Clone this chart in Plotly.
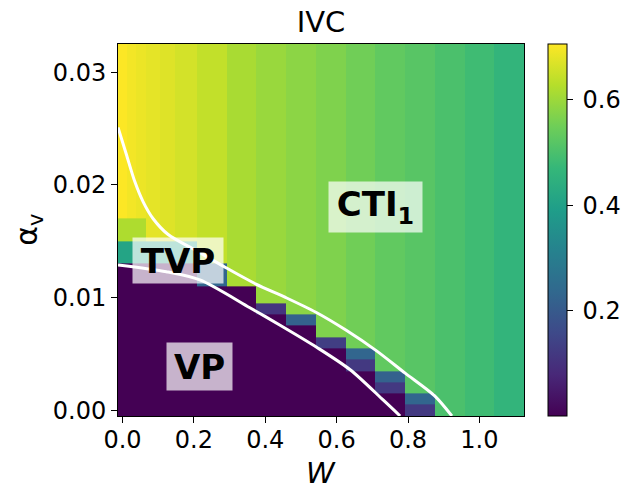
import plotly.graph_objects as go

# ---- data ----
W = [0.0, 0.025, 0.05, 0.0833, 0.125, 0.1667, 0.25, 0.3333, 0.4167, 0.5,
     0.5833, 0.6667, 0.75, 0.8333, 0.9167, 1.0, 1.0833]
alpha_v = [0.000, 0.001, 0.002, 0.003, 0.004, 0.005, 0.006, 0.007, 0.008, 0.009,
           0.010, 0.012, 0.014, 0.016, 0.018, 0.020, 0.022, 0.024, 0.026, 0.028,
           0.030, 0.032]

# value of each column outside the VP region
col_level = [0.705, 0.695, 0.688, 0.680, 0.672, 0.660, 0.642, 0.614, 0.597, 0.582,
             0.568, 0.551, 0.531, 0.519, 0.501, 0.484, 0.462]
# highest alpha_v that is still in the VP (purple) region, per column
vp_top = [0.012, 0.012, 0.012, 0.012, 0.012, 0.012, 0.010, 0.010, 0.008, 0.007,
          0.005, 0.003, 0.001, None, None, None, None]
vp_level = 0.0

# individual cells along the phase boundaries
cell_W = [0.0, 0.025, 0.05, 0.0833, 0.125, 0.1667, 0.0, 0.025, 0.05,
          0.25, 0.4167, 0.5, 0.5833, 0.6667, 0.6667, 0.75, 0.75, 0.8333, 0.8333]
cell_a = [0.014, 0.014, 0.014, 0.014, 0.014, 0.014, 0.016, 0.016, 0.016,
          0.012, 0.009, 0.008, 0.006, 0.005, 0.004, 0.003, 0.002, 0.001, 0.000]
cell_v = [0.41, 0.41, 0.41, 0.41, 0.41, 0.41, 0.62, 0.62, 0.62,
          0.23, 0.11, 0.22, 0.13, 0.23, 0.12, 0.22, 0.12, 0.23, 0.12]

# white boundary curves
upper_W = [-0.0125, 0.011, 0.0345, 0.058, 0.086, 0.128, 0.208, 0.2875, 0.374,
           0.458, 0.542, 0.627, 0.711, 0.792, 0.874, 0.923]
upper_a = [0.0251, 0.0227, 0.0203, 0.0185, 0.0170, 0.0156, 0.01415, 0.0127, 0.0112,
           0.0100, 0.0087, 0.0071, 0.0053, 0.0033, 0.0013, -0.0005]
lower_W = [-0.0125, 0.123, 0.217, 0.357, 0.45, 0.544, 0.638, 0.731, 0.778]
lower_a = [0.0129, 0.0123, 0.01157, 0.0091, 0.0074, 0.0056, 0.0036, 0.0009, -0.0005]

x_ticks = [0.0, 0.2, 0.4, 0.6, 0.8, 1.0]
x_ticktext = ["0.0", "0.2", "0.4", "0.6", "0.8", "1.0"]
y_ticks = [0.00, 0.01, 0.02, 0.03]
y_ticktext = ["0.00", "0.01", "0.02", "0.03"]
cb_ticks = [0.2, 0.4, 0.6]
cb_ticktext = ["0.2", "0.4", "0.6"]
z_min, z_max = 0.0, 0.706

labels = ["<b>CTI<sub>1</sub></b>", "<b>TVP</b>", "<b>VP</b>"]
label_W = [0.708, 0.156, 0.217]
label_a = [0.01806, 0.01327, 0.00387]
label_w = [93, 90, 65]
label_h = [50, 45, 47]

# ---- build grid ----
def nearest(lst, v):
    return min(range(len(lst)), key=lambda i: abs(lst[i] - v))

z = []
for a in alpha_v:
    row = []
    for j in range(len(W)):
        top = vp_top[j]
        if top is not None and a <= top + 1e-9:
            row.append(vp_level)
        else:
            row.append(col_level[j])
    z.append(row)
for w, a, v in zip(cell_W, cell_a, cell_v):
    z[nearest(alpha_v, a)][nearest(W, w)] = v

FONT = "DejaVu Sans"

fig = go.Figure()
fig.add_trace(go.Heatmap(
    x=W, y=alpha_v, z=z, colorscale="Viridis", zmin=z_min, zmax=z_max,
    showscale=True,
    colorbar=dict(
        x=1.0598, xanchor="left", xpad=0, y=0.5, yanchor="middle", ypad=0,
        len=1, lenmode="fraction", thickness=19,
        outlinewidth=1, outlinecolor="black",
        tickvals=cb_ticks, ticktext=["\u2009" + t for t in cb_ticktext],
        ticks="outside", ticklen=6,
        tickcolor="black", tickwidth=1,
        tickfont=dict(family=FONT, size=24, color="black"),
    ),
))
fig.add_trace(go.Scatter(x=upper_W, y=upper_a, mode="lines",
                         line=dict(color="white", width=3, shape="spline",
                                   smoothing=0.8),
                         showlegend=False, hoverinfo="skip"))
fig.add_trace(go.Scatter(x=lower_W, y=lower_a, mode="lines",
                         line=dict(color="white", width=3, shape="spline",
                                   smoothing=0.8),
                         showlegend=False, hoverinfo="skip"))

for t, xw, ya, bw, bh in zip(labels, label_W, label_a, label_w, label_h):
    fig.add_annotation(x=xw, y=ya, xref="x", yref="y", text=t, showarrow=False,
                       font=dict(family=FONT, size=34, color="black"),
                       bgcolor="rgba(255,255,255,0.7)", borderpad=0,
                       width=bw, height=bh, align="center", valign="middle")

# y-axis title
fig.add_annotation(x=-0.222, y=0.5, xref="paper", yref="paper",
                   text="α<sub>v</sub>", textangle=-90, showarrow=False,
                   font=dict(family=FONT, size=30, color="black"),
                   xanchor="center", yanchor="middle")
# x-axis title
fig.add_annotation(x=0.5, y=-(473 - 416) / 372, xref="paper", yref="paper",
                   text="<i>W</i>", showarrow=False,
                   font=dict(family=FONT, size=29, color="black"),
                   xanchor="center", yanchor="middle")

axis_common = dict(showline=True, mirror=True, linecolor="black", linewidth=1,
                   showgrid=False, zeroline=False, ticks="outside", ticklen=6,
                   tickwidth=1, tickcolor="black", automargin=False,
                   tickfont=dict(family=FONT, size=24, color="black"))

fig.update_layout(
    width=636, height=489,
    margin=dict(l=118, r=112, t=44, b=73, autoexpand=False),
    paper_bgcolor="white", plot_bgcolor="white",
    font=dict(family=FONT, color="black"),
    title=dict(text="IVC", x=0.5, xref="paper", xanchor="center",
               y=1 - 22 / 489, yref="container", yanchor="middle",
               font=dict(family=FONT, size=29, color="black")),
    xaxis=dict(range=[-0.0125, 1.125], tickvals=x_ticks, ticktext=x_ticktext,
               ticklabelstandoff=-4, **axis_common),
    yaxis=dict(range=[-0.0005, 0.0325], tickvals=y_ticks, ticktext=y_ticktext,
               **axis_common),
    showlegend=False,
)

fig.write_html("out.html")
